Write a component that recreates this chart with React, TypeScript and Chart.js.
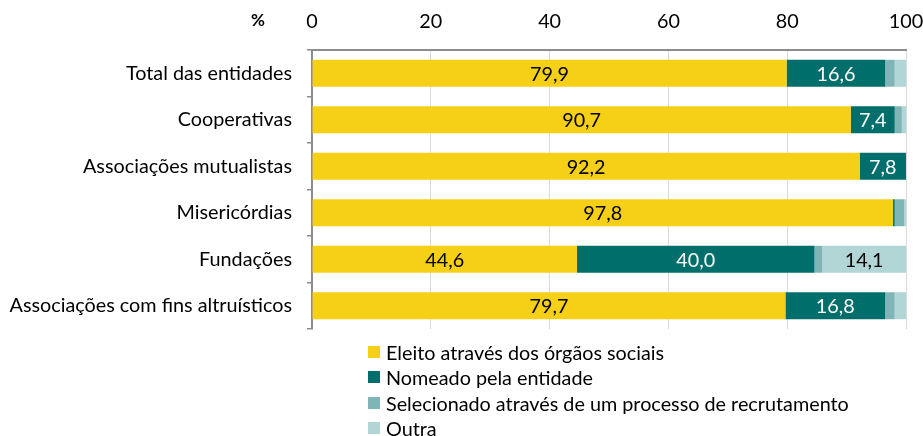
import React, { useEffect, useRef } from "react";
import { Chart, registerables } from "chart.js";

Chart.register(...registerables);

const categories = [
  "Total das entidades",
  "Cooperativas",
  "Associações mutualistas",
  "Misericórdias",
  "Fundações",
  "Associações com fins altruísticos",
];
const seriesNames = [
  "Eleito através dos órgãos sociais",
  "Nomeado pela entidade",
  "Selecionado através de um processo de recrutamento",
  "Outra",
];
const eleito = [79.9, 90.7, 92.2, 97.8, 44.6, 79.7];
const nomeado = [16.6, 7.4, 7.8, 0.3, 40.0, 16.8];
const selecionado = [1.6, 1.2, 0, 1.6, 1.3, 1.6];
const outra = [1.9, 0.7, 0, 0.3, 14.1, 1.9];
const xTicks = [0, 20, 40, 60, 80, 100];

const colors = ["#F6CF17", "#006F6B", "#7FB5B6", "#B2D5D6"];
const labelColors = ["#000000", "#FFFFFF", "#000000", "#000000"];
const FONT = "Lato, 'Open Sans', sans-serif";
const FS = 19.8;

const labelPlugin = {
  id: "segLabels",
  afterDatasetsDraw(chart: any) {
    const ctx = chart.ctx;
    ctx.save();
    ctx.font = `${FS}px ${FONT}`;
    ctx.textAlign = "center";
    ctx.textBaseline = "middle";
    chart.data.datasets.forEach((ds: any, di: number) => {
      const meta = chart.getDatasetMeta(di);
      meta.data.forEach((bar: any, i: number) => {
        const v = ds.data[i];
        if (v < 5) return;
        const cx = (bar.x + bar.base) / 2;
        ctx.fillStyle = labelColors[di];
        ctx.fillText(v.toFixed(1).replace(".", ","), cx, bar.y + 1);
      });
    });
    ctx.restore();
  },
};

const pctPlugin = {
  id: "pctLabel",
  afterDraw(chart: any) {
    const ctx = chart.ctx;
    ctx.save();
    ctx.font = `bold 17px ${FONT}`;
    ctx.fillStyle = "#000";
    ctx.textAlign = "center";
    ctx.textBaseline = "middle";
    ctx.fillText("%", 258, 21);
    ctx.restore();
  },
};

export default function App() {
  const ref = useRef<HTMLCanvasElement>(null);
  useEffect(() => {
    if (!ref.current) return;
    const datasets = [eleito, nomeado, selecionado, outra].map((d, i) => ({
      label: seriesNames[i],
      data: d,
      backgroundColor: colors[i],
      borderWidth: 0,
      categoryPercentage: 1,
      barPercentage: 0.58,
    }));
    const chart = new Chart(ref.current, {
      type: "bar",
      data: { labels: categories, datasets },
      options: {
        indexAxis: "y",
        animation: false,
        responsive: false,
        maintainAspectRatio: false,
        layout: { padding: { top: 0, right: 17, bottom: 107, left: 0 } },
        plugins: { legend: { display: false }, tooltip: { enabled: false } },
        scales: {
          x: {
            position: "top",
            stacked: true,
            min: 0,
            max: 100,
            afterBuildTicks: (axis: any) => {
              axis.ticks = xTicks.map((v) => ({ value: v }));
            },
            afterFit: (axis: any) => {
              axis.height = 50;
              axis.paddingLeft = 0;
              axis.paddingRight = 0;
            },
            ticks: {
              color: "#000",
              font: { family: FONT, size: FS },
              padding: 17,
              maxRotation: 0,
            },
            grid: {
              color: "#DADADA",
              lineWidth: 1,
              drawTicks: false,
            },
            border: { display: true, color: "#8C8C8C", width: 2 },
          },
          y: {
            stacked: true,
            afterFit: (axis: any) => {
              axis.width = 312;
              axis.paddingTop = 0;
              axis.paddingBottom = 0;
            },
            ticks: {
              color: "#000",
              font: { family: FONT, size: FS },
              padding: 15,
            },
            grid: {
              drawOnChartArea: false,
              drawTicks: true,
              tickLength: 5,
              color: "#8C8C8C",
              lineWidth: 1.5,
            },
            border: { display: true, color: "#8C8C8C", width: 2 },
          },
        },
      },
      plugins: [labelPlugin, pctPlugin],
    });
    return () => chart.destroy();
  }, []);

  const legendTop = [342, 367, 393, 418];
  return (
    <div style={{ position: "absolute", left: 0, top: 0, width: 923, height: 436, background: "#fff" }}>
      <canvas ref={ref} width={923} height={436} style={{ position: "absolute", left: 0, top: 0 }} />
      {seriesNames.map((n, i) => (
        <div
          key={n}
          style={{
            position: "absolute",
            left: 368,
            top: legendTop[i],
            height: 20,
            display: "flex",
            alignItems: "center",
            fontFamily: FONT,
            fontSize: FS,
            color: "#000",
            whiteSpace: "nowrap",
          }}
        >
          <span style={{ display: "inline-block", width: 12, height: 12, background: colors[i], marginRight: 6, flexShrink: 0 }} />
          {n}
        </div>
      ))}
    </div>
  );
}
